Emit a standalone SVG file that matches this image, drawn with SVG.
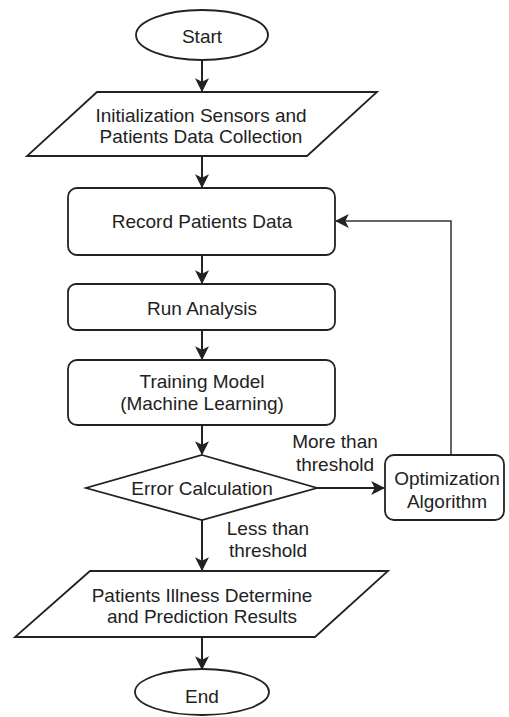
<svg xmlns="http://www.w3.org/2000/svg" width="509" height="717" viewBox="0 0 509 717">
  <style>
    .shape { fill: #ffffff; stroke: #222222; stroke-width: 1.8; }
    .label { font-family: "Liberation Sans", Arial, Helvetica, sans-serif; font-size: 19px; fill: #222222; text-anchor: middle; }
    .edge { fill: none; stroke: #222222; stroke-width: 2; }
    .thin { fill: none; stroke: #333333; stroke-width: 1.5; }
  </style>
  <defs>
    <marker id="arrow" viewBox="0 0 12 12" refX="11" refY="6" markerWidth="7" markerHeight="7" markerUnits="userSpaceOnUse" orient="auto">
      <path d="M0,0 L12,6 L0,12 L3,6 z" fill="#222222"/>
    </marker>
    <marker id="arrowBig" viewBox="0 0 12 12" refX="11" refY="6" markerWidth="14" markerHeight="14" markerUnits="userSpaceOnUse" orient="auto">
      <path d="M0,0 L12,6 L0,12 L3,6 z" fill="#222222"/>
    </marker>
  </defs>

  <rect width="509" height="717" fill="#ffffff"/>

  <!-- connectors -->
  <g id="connectors">
    <line class="edge" x1="202" y1="60" x2="202" y2="91" marker-end="url(#arrowBig)"/>
    <line class="edge" x1="202" y1="156" x2="202" y2="187" marker-end="url(#arrowBig)"/>
    <line class="edge" x1="202" y1="255" x2="202" y2="283" marker-end="url(#arrowBig)"/>
    <line class="edge" x1="202" y1="330" x2="202" y2="359" marker-end="url(#arrowBig)"/>
    <line class="edge" x1="202" y1="425" x2="202" y2="454" marker-end="url(#arrowBig)"/>
    <line class="edge" x1="202" y1="520" x2="202" y2="570" marker-end="url(#arrowBig)"/>
    <line class="edge" x1="202" y1="637" x2="202" y2="669" marker-end="url(#arrowBig)"/>
    <line class="edge" x1="317" y1="488" x2="384" y2="488" marker-end="url(#arrowBig)"/>
    <polyline class="thin" points="451,455 451,221 336,221" marker-end="url(#arrowBig)"/>
    <text class="label" x="335" y="448">More than</text>
    <text class="label" x="335" y="471">threshold</text>
    <text class="label" x="268" y="535">Less than</text>
    <text class="label" x="268" y="557">threshold</text>
  </g>

  <g id="start">
    <ellipse class="shape" cx="202" cy="35" rx="66" ry="25"/>
    <text class="label" x="202" y="43">Start</text>
  </g>

  <g id="init">
    <polygon class="shape" points="97,92 377,92 307,156 27,156"/>
    <text class="label" x="201" y="122">Initialization Sensors and</text>
    <text class="label" x="201" y="143">Patients Data Collection</text>
  </g>

  <g id="record">
    <rect class="shape" x="68" y="188" width="267" height="67" rx="9"/>
    <text class="label" x="202" y="228">Record Patients Data</text>
  </g>

  <g id="run">
    <rect class="shape" x="68" y="284" width="267" height="46" rx="8"/>
    <text class="label" x="202" y="315">Run Analysis</text>
  </g>

  <g id="training">
    <rect class="shape" x="68" y="360" width="267" height="65" rx="9"/>
    <text class="label" x="202" y="388">Training Model</text>
    <text class="label" x="202" y="410">(Machine Learning)</text>
  </g>

  <g id="error">
    <polygon class="shape" points="202,455 317,488 202,520 86,488"/>
    <text class="label" x="202" y="495">Error Calculation</text>
  </g>

  <g id="optimization">
    <rect class="shape" x="385" y="455" width="119" height="65" rx="9"/>
    <text class="label" x="447" y="485">Optimization</text>
    <text class="label" x="447" y="508">Algorithm</text>
  </g>

  <g id="results">
    <polygon class="shape" points="90,571 388,571 315,637 15,637"/>
    <text class="label" x="202" y="602">Patients Illness Determine</text>
    <text class="label" x="202" y="623">and Prediction Results</text>
  </g>

  <g id="end">
    <ellipse class="shape" cx="202" cy="692" rx="67" ry="23"/>
    <text class="label" x="202" y="703">End</text>
  </g>
</svg>
